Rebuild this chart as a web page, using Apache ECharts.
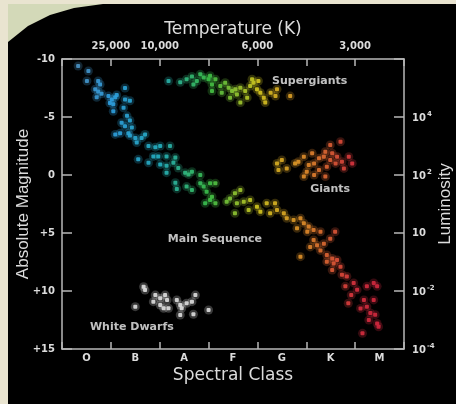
<!DOCTYPE html>
<html>
<head>
<meta charset="utf-8">
<script src="https://cdn.jsdelivr.net/npm/echarts@6/dist/echarts.min.js"></script>
<style>
  html, body { margin: 0; padding: 0; background: #e9e4d0; }
  #chart { position: absolute; left: 8px; top: 4px; width: 448px; height: 400px; }
</style>
</head>
<body>
<div id="chart"></div>
<script>
// bottom axis: spectral classes
const spectralClasses = ['O', 'B', 'A', 'F', 'G', 'K', 'M'];
// top axis: temperatures at class boundaries
const tempTicks = [1, 2, 4, 6];
const tempLabels = ['25,000', '10,000', '6,000', '3,000'];
// left axis magnitude ticks, right axis luminosity labels for them
const magTicks = [-10, -5, 0, 5, 10, 15];
const lumBase = ['', '10', '10', '10', '10', '10'];
const lumExp = ['', '4', '2', '', '-2', '-4'];

// colour along the spectral axis (O -> M)
const classColors = ['#5a8fb8', '#2e9ee0', '#25b0c0', '#3cc048', '#d4c820', '#e08a2a', '#d83040', '#c81e3c'];

// main sequence (x = spectral position 0..7, y = absolute magnitude)
const msX = [0.33, 0.54, 0.51, 0.74, 0.78, 0.68, 0.74, 0.81, 0.71, 1.29, 0.95, 1.02, 1.05, 0.98, 1.09, 1.12,
  1.29, 1.39, 1.26, 1.05, 1.33, 1.39, 1.22, 1.29, 1.43, 1.19, 1.36, 1.39, 1.50, 1.53, 1.09, 1.63, 1.70,
  1.77, 1.91, 2.01, 2.21, 1.87, 1.97, 2.14, 2.32, 1.56, 1.77, 2.01, 2.14, 2.28, 2.38, 2.52, 2.59, 2.14,
  2.32, 2.35, 2.66, 2.83, 2.55, 2.66, 2.83, 2.90, 3.03, 3.14, 2.96, 3.07, 2.93, 3.14, 3.03, 3.44, 3.54,
  3.65, 3.37, 3.58, 3.72, 3.54, 3.85, 3.82, 3.99, 4.06, 4.19, 4.36, 4.26, 4.40, 4.54, 4.60, 4.74, 4.88,
  4.95, 5.05, 4.81, 5.02, 5.15, 5.29, 5.15, 5.22, 5.36, 5.49, 5.59, 5.08, 4.88, 5.29, 5.42, 5.53, 5.42,
  5.56, 5.63, 5.53, 5.70, 5.73, 5.83, 5.97, 5.80, 6.04, 6.24, 6.38, 6.45, 6.38, 6.18, 6.24, 6.11, 6.31,
  6.41, 6.28, 6.45, 6.15, 6.48, 5.92, 5.86];
const msY = [-9.4, -8.97, -8.1, -8.1, -7.8, -7.4, -7.2, -7.0, -6.7, -7.5, -6.8, -6.5, -6.1, -6.2, -6.7, -6.9,
  -6.5, -6.4, -5.8, -5.5, -5.1, -4.7, -4.5, -4.2, -4.1, -3.6, -3.6, -3.4, -3.2, -2.8, -3.5, -3.2, -3.5,
  -2.5, -2.4, -2.5, -2.5, -1.6, -1.6, -1.6, -1.5, -1.35, -1.06, -0.9, -0.8, -1.06, -0.6, -0.2, -0.05, -0.2,
  0.66, 1.2, -0.29, 0.0, 1.0, 1.3, 0.72, 1.0, 0.72, 0.72, 1.44, 1.87, 2.44, 2.44, 2.16, 2.02, 1.58,
  1.3, 2.3, 2.44, 2.3, 3.3, 2.16, 3.02, 2.73, 3.16, 2.44, 2.44, 3.3, 3.02, 3.3, 3.73, 3.88, 3.73,
  4.16, 4.45, 4.59, 4.89, 4.74, 4.89, 5.6, 6.06, 5.92, 5.49, 4.89, 6.2, 7.04, 6.5, 6.9, 7.2, 7.47,
  7.62, 7.33, 8.2, 7.9, 8.6, 8.74, 9.3, 9.6, 9.9, 9.6, 9.3, 9.6, 10.77, 10.77, 11.35, 11.5, 11.9,
  12.04, 12.5, 12.8, 13.65, 13.08, 10.34, 11.06];

// supergiants
const sgX = [2.18, 2.42, 2.55, 2.66, 2.76, 2.83, 2.90, 3.00, 3.07, 3.03, 3.14, 2.69, 3.07, 3.27, 3.34, 3.41,
  3.48, 3.55, 3.58, 3.44, 3.65, 3.75, 3.85, 3.92, 3.99, 3.79, 3.89, 4.06, 4.13, 4.27, 4.37, 4.16, 4.40,
  4.02, 4.67, 3.65, 3.24];
const sgY = [-8.1, -8.0, -8.25, -8.5, -8.1, -8.68, -8.4, -8.25, -7.8, -8.56, -8.25, -7.8, -7.24, -7.1, -7.96, -7.53,
  -7.24, -7.39, -6.95, -6.67, -7.53, -7.24, -7.67, -7.96, -7.39, -6.67, -8.25, -7.1, -6.67, -7.1, -6.8, -6.24, -7.39,
  -8.1, -6.8, -6.24, -7.67];

// giants
const gX = [4.50, 4.40, 4.43, 4.60, 4.77, 4.84, 4.95, 5.12, 5.16, 5.26, 5.36, 5.49, 5.53, 5.63, 5.70, 5.60,
  5.73, 5.77, 5.87, 5.42, 5.26, 5.16, 4.95, 5.39, 5.05, 5.01, 5.94, 5.49, 5.39];
const gY = [-1.29, -1.0, -0.43, -0.57, -1.0, -1.15, -1.58, -1.87, -1.0, -1.44, -1.58, -2.59, -1.87, -1.58, -2.87, -1.0,
  -1.15, -0.57, -1.58, -0.72, -0.43, 0.0, 0.14, 0.14, -0.86, -0.29, -1.0, -1.29, -2.0];

// white dwarfs
const wdX = [1.67, 1.70, 1.91, 2.01, 2.11, 2.15, 1.87, 2.01, 2.08, 2.18, 1.50, 2.35, 2.42, 2.45, 2.55, 2.66,
  2.73, 2.42, 2.69, 3.00];
const wdY = [9.63, 9.92, 10.35, 10.63, 10.35, 10.78, 10.92, 11.21, 11.49, 11.49, 11.35, 10.78, 11.21, 11.49, 11.06, 10.92,
  10.35, 12.07, 12.0, 11.64];

// region labels
const regionNames = ['Supergiants', 'Giants', 'Main Sequence', 'White Dwarfs'];
const regionX = [5.07, 5.49, 3.13, 1.43];
const regionY = [-8.13, 1.21, 5.52, 13.08];

const zip = (xs, ys) => xs.map((x, i) => [x, ys[i]]);
const txt = '#dcdcdc';
const lineCol = '#b8b8b8';
const tickFont = { color: txt, fontSize: 10, fontWeight: 'bold', fontFamily: 'DejaVu Sans' };

function starSeries(data, color) {
  const halo = {
    type: 'scatter', xAxisIndex: 0, yAxisIndex: 0, data: data,
    symbol: 'circle', symbolSize: 9, silent: true,
    itemStyle: { opacity: 0.25 }
  };
  const core = {
    type: 'scatter', xAxisIndex: 0, yAxisIndex: 0, data: data,
    symbol: 'roundRect', symbolSize: 4, silent: true,
    itemStyle: { opacity: 0.9 }
  };
  if (color) {
    halo.itemStyle.color = color;
    core.itemStyle.color = color;
  }
  return [halo, core];
}

const series = [].concat(
  starSeries(zip(msX, msY)),
  starSeries(zip(sgX, sgY)),
  starSeries(zip(gX, gY)),
  starSeries(zip(wdX, wdY), '#dedede'),
  [{
    type: 'scatter', xAxisIndex: 0, yAxisIndex: 0, symbolSize: 0, silent: true,
    data: regionNames.map((n, i) => ({ name: n, value: [regionX[i], regionY[i]] })),
    label: {
      show: true, position: 'inside', formatter: '{b}',
      color: '#f0f0f0', fontSize: 11, fontWeight: 'bold', fontFamily: 'DejaVu Sans'
    }
  }]
);

const chart = echarts.init(document.getElementById('chart'));
chart.setOption({
  backgroundColor: '#000',
  animation: false,
  grid: { left: 54, top: 55, width: 342, height: 290, containLabel: false, outerBoundsMode: 'none' },
  visualMap: {
    type: 'continuous', show: false, dimension: 0, min: 0, max: 7,
    seriesIndex: [0, 1, 2, 3, 4, 5],
    inRange: { color: classColors }
  },
  graphic: [{
    type: 'polygon', z: 100,
    shape: { points: [[0, 0], [95, 0], [66, 4], [42, 11], [20, 22], [0, 38]] },
    style: { fill: '#d3d9b8' }
  }],
  xAxis: [
    {
      // data axis
      type: 'value', position: 'bottom', min: 0, max: 7, interval: 1,
      axisLine: { onZero: false, lineStyle: { color: lineCol, width: 1.5 } },
      axisTick: { inside: true, length: 7, lineStyle: { color: lineCol, width: 1.5 } },
      axisLabel: { show: false },
      splitLine: { show: false }
    },
    {
      // spectral class labels
      type: 'category', position: 'bottom', data: spectralClasses,
      axisLine: { show: false }, axisTick: { show: false },
      axisLabel: Object.assign({ margin: 4 }, tickFont),
      name: 'Spectral Class', nameLocation: 'middle', nameGap: 18, nameMoveOverlap: false,
      nameTextStyle: { color: txt, fontSize: 17, fontFamily: 'DejaVu Sans' }
    },
    {
      // temperature
      type: 'value', position: 'top', min: 0, max: 7, interval: 1,
      axisLine: { onZero: false, lineStyle: { color: lineCol, width: 1.5 } },
      axisTick: { inside: true, length: 7, lineStyle: { color: lineCol, width: 1.5 } },
      axisLabel: Object.assign({
        margin: 8,
        formatter: function (v) {
          const i = tempTicks.indexOf(v);
          return i >= 0 ? tempLabels[i] : '';
        }
      }, tickFont),
      splitLine: { show: false },
      name: 'Temperature (K)', nameLocation: 'middle', nameGap: 21, nameMoveOverlap: false,
      nameTextStyle: { color: txt, fontSize: 17, fontFamily: 'DejaVu Sans' }
    }
  ],
  yAxis: [
    {
      type: 'value', position: 'left', inverse: true, min: -10, max: 15, interval: 5,
      axisLine: { show: true, onZero: false, lineStyle: { color: lineCol, width: 1.5 } },
      axisTick: { show: true, inside: true, length: 10, lineStyle: { color: lineCol, width: 1.5 } },
      axisLabel: Object.assign({
        margin: 7,
        formatter: function (v) { return v > 0 ? '+' + v : String(v); }
      }, tickFont),
      splitLine: { show: false },
      name: 'Absolute Magnitude', nameLocation: 'middle', nameGap: 30, nameRotate: 90, nameMoveOverlap: false,
      nameTextStyle: { color: txt, fontSize: 17, fontFamily: 'Liberation Sans' }
    },
    {
      type: 'value', position: 'right', inverse: true, min: -10, max: 15, interval: 5,
      axisLine: { show: true, onZero: false, lineStyle: { color: lineCol, width: 1.5 } },
      axisTick: { show: true, inside: true, length: 10, lineStyle: { color: lineCol, width: 1.5 } },
      axisLabel: {
        margin: 8,
        formatter: function (v) {
          const i = magTicks.indexOf(v);
          if (i < 0 || !lumBase[i]) return '';
          return lumExp[i] ? '{b|' + lumBase[i] + '}{s|' + lumExp[i] + '}' : '{b|' + lumBase[i] + '}';
        },
        rich: {
          b: { color: txt, fontSize: 10, fontWeight: 'bold', fontFamily: 'DejaVu Sans', verticalAlign: 'bottom' },
          s: { color: txt, fontSize: 7, fontWeight: 'bold', fontFamily: 'DejaVu Sans', verticalAlign: 'bottom', padding: [0, 0, 6, 1] }
        }
      },
      splitLine: { show: false },
      name: 'Luminosity', nameLocation: 'middle', nameGap: 33, nameRotate: 90, nameMoveOverlap: false,
      nameTextStyle: { color: txt, fontSize: 17, fontFamily: 'Liberation Sans' }
    }
  ],
  series: series
});
</script>
</body>
</html>
